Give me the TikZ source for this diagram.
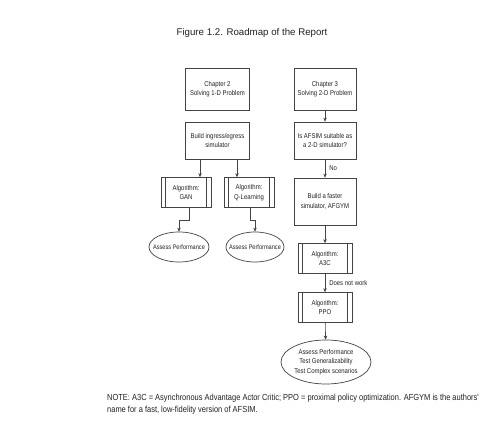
\documentclass[tikz,border=0pt]{standalone}
\usepackage{fontspec}
\setmainfont{Liberation Sans}
\newfontfamily\narrowfont[FakeStretch=0.85]{Liberation Sans}
\usetikzlibrary{arrows.meta,shapes.geometric}
\definecolor{linecol}{HTML}{444444}
\definecolor{txtcol}{HTML}{222222}
\begin{document}
\begin{tikzpicture}[x=1pt,y=-1pt,
  every node/.style={text=txtcol},
  box/.style={draw=linecol, fill=white, line width=0.7pt, align=center, inner sep=1pt,
    font=\narrowfont\fontsize{7}{9.5}\selectfont},
  algbox/.style={box, path picture={
    \draw[linecol, line width=0.6pt]
      ([xshift=4.5pt]path picture bounding box.north west) -- ([xshift=4.5pt]path picture bounding box.south west)
      ([xshift=-4.5pt]path picture bounding box.north east) -- ([xshift=-4.5pt]path picture bounding box.south east);}},
  ell/.style={draw=linecol, fill=white, ellipse, line width=0.7pt, align=center, inner sep=0pt,
    font=\narrowfont\fontsize{7}{9.5}\selectfont},
  arr/.style={draw=linecol, line width=0.6pt, -{Stealth[length=4pt,width=3.5pt]}},
  lbl/.style={font=\narrowfont\fontsize{7}{9}\selectfont, inner sep=0pt, anchor=west}
]
\useasboundingbox[fill=white] (0,0) rectangle (499,436);

\node[font=\fontsize{9.7}{12}\selectfont] (title) at (252,33) {Figure 1.2. Roadmap of the Report};

% left column
\node[box, minimum width=64pt, minimum height=42pt] (ch2) at (217.5,89) {Chapter 2\\Solving 1-D Problem};
\node[box, minimum width=64pt, minimum height=37pt] (build) at (217.5,140.5) {Build ingress/egress\\simulator};
\node[algbox, minimum width=50pt, minimum height=30pt] (gan) at (186,192.5) {Algorithm:\\GAN};
\node[algbox, minimum width=50pt, minimum height=30pt] (ql) at (249,192.5) {Algorithm:\\Q-Learning};
\node[ell, minimum width=60pt, minimum height=30pt, inner xsep=-9pt, font=\narrowfont\fontsize{6.6}{9}\selectfont] (e1) at (179,247) {Assess Performance};
\node[ell, minimum width=58pt, minimum height=30pt, inner xsep=-9pt, font=\narrowfont\fontsize{6.6}{9}\selectfont] (e2) at (255,247) {Assess Performance};

% right column
\node[box, minimum width=62pt, minimum height=42pt] (ch3) at (325,89) {Chapter 3\\Solving 2-D Problem};
\node[box, minimum width=62pt, minimum height=37pt] (afsim) at (325,140.5) {Is AFSIM suitable as\\a 2-D simulator?};
\node[box, minimum width=62pt, minimum height=47pt] (faster) at (325,201.5) {Build a faster\\simulator, AFGYM};
\node[algbox, minimum width=54pt, minimum height=30pt] (a3c) at (325,258.5) {Algorithm:\\A3C};
\node[algbox, minimum width=54pt, minimum height=30pt] (ppo) at (325,307.5) {Algorithm:\\PPO};
\node[ell, minimum width=90pt, minimum height=44pt] (final) at (326,362) {Assess Performance\\Test Generalizability\\Test Complex scenarios};

% connectors
\draw[arr] (ch3) -- (afsim);
\draw[arr] (afsim) -- node[lbl, right, xshift=4pt] (no) {No} (faster);
\draw[arr] (faster) -- (a3c);
\draw[arr] (a3c) -- node[lbl, right, xshift=4pt] (dnw) {Does not work} (ppo);
\draw[arr] (ppo) -- (final);

\draw[arr] (build.south -| 200,0) -- (gan.north -| 200,0);
\draw[arr] (build.south -| 237,0) -- (ql.north -| 237,0);
\coordinate (g1) at (189,220);
\coordinate (q1) at (250,220);
\draw[arr] (gan.south -| g1) -- (g1) -| (e1.north);
\draw[arr] (ql.south -| q1) -- (q1) -| (e2.north);

\node[font=\narrowfont\fontsize{8.8}{12}\selectfont, align=left, anchor=north west, inner sep=0pt] (note) at (107,394)
  {NOTE: A3C = Asynchronous Advantage Actor Critic; PPO = proximal policy optimization. AFGYM is the authors'\\
   name for a fast, low-fidelity version of AFSIM.};
\end{tikzpicture}
\end{document}
